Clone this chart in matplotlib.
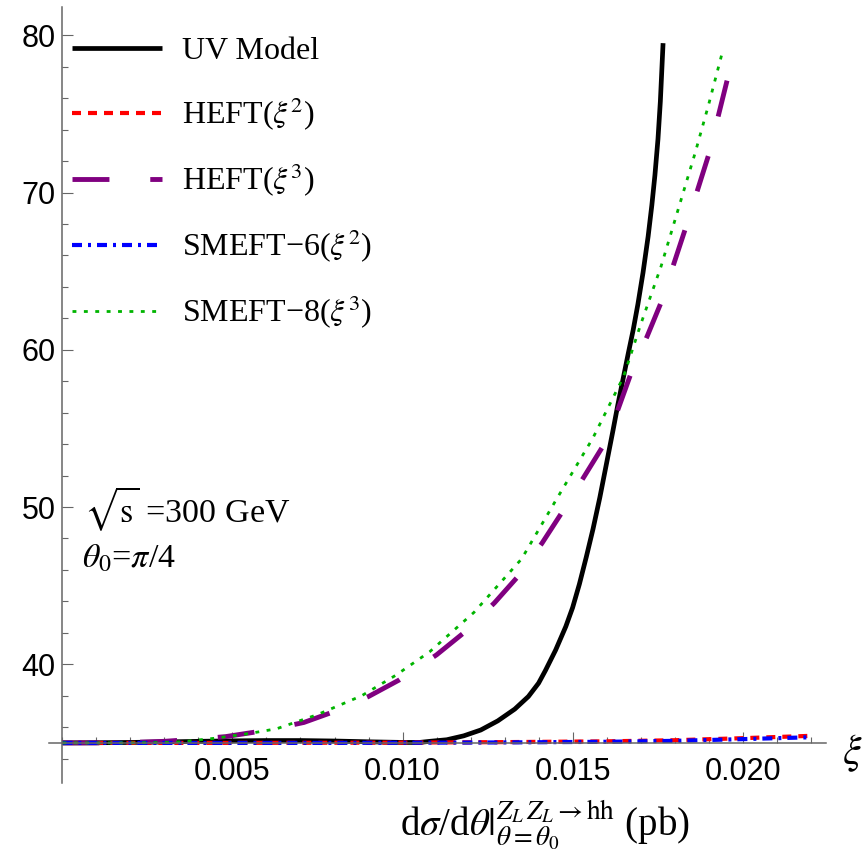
import numpy as np
import matplotlib
matplotlib.use("Agg")
import matplotlib.pyplot as plt
from matplotlib.ticker import MultipleLocator, FormatStrFormatter

plt.rcParams['mathtext.fontset'] = 'stix'
plt.rcParams['font.family'] = ['Liberation Serif', 'DejaVu Serif']

# values
uv_x = [0, 0.001, 0.002, 0.003, 0.004, 0.005, 0.006, 0.007, 0.008, 0.009, 0.010,
        0.0105, 0.0108, 0.0113, 0.0118, 0.0123, 0.0128, 0.0133, 0.0137, 0.0140,
        0.0142, 0.0145, 0.0148, 0.0150, 0.0152, 0.0154, 0.0156, 0.0158, 0.0160,
        0.01619, 0.01633, 0.01648, 0.01663, 0.01678, 0.01692, 0.01707, 0.01722,
        0.01733, 0.01742, 0.01751, 0.01758, 0.01766]
uv_y = [35.0, 35.01, 35.03, 35.06, 35.1, 35.13, 35.15, 35.15, 35.12, 35.07, 35.03,
        35.03, 35.1, 35.2, 35.45, 35.82, 36.4, 37.15, 37.95, 38.8,
        39.6, 40.9, 42.4, 43.6, 45.1, 46.8, 48.6, 50.6, 52.8,
        54.9, 56.5, 58.1, 59.7, 61.25, 62.9, 64.9, 67.2,
        69.2, 71.1, 73.4, 75.8, 79.5]

heft2_x = [0, 0.004, 0.008, 0.010, 0.013, 0.016, 0.018, 0.020, 0.022]
heft2_y = [35.0, 35.0, 35.01, 35.02, 35.05, 35.1, 35.17, 35.3, 35.45]

heft3_x = [0, 0.001, 0.002, 0.003, 0.004, 0.0048, 0.006, 0.0071, 0.008, 0.009,
           0.0099, 0.0110, 0.0118, 0.0127, 0.0134, 0.0141, 0.0147, 0.0153, 0.0159,
           0.0163, 0.0167, 0.0172, 0.0176, 0.0183, 0.0190, 0.01955]
heft3_y = [35.0, 35.0, 35.03, 35.1, 35.25, 35.4, 35.8, 36.3, 37.0, 37.95,
           39.0, 40.6, 42.0, 43.9, 45.6, 47.7, 49.7, 51.8, 53.9,
           56.0, 58.4, 60.9, 63.0, 67.6, 72.4, 77.2]

smeft6_x = [0, 0.004, 0.008, 0.010, 0.013, 0.016, 0.018, 0.020, 0.022]
smeft6_y = [35.0, 35.0, 35.0, 35.01, 35.03, 35.07, 35.13, 35.24, 35.36]

smeft8_x = [0, 0.002, 0.003, 0.0035, 0.0045, 0.0055, 0.0063, 0.0075, 0.0088, 0.0098,
            0.0108, 0.0121, 0.0135, 0.0145, 0.0156, 0.0165, 0.0170, 0.0176, 0.0181,
            0.0186, 0.0190, 0.0194]
smeft8_y = [35.0, 35.0, 35.03, 35.07, 35.3, 35.6, 35.9, 36.8, 38.0, 39.3,
            40.8, 43.3, 46.7, 50.4, 54.4, 58.3, 61.6, 65.3, 68.9,
            72.5, 75.6, 78.9]

x_major = [0.005, 0.010, 0.015, 0.020]
y_major = [40, 50, 60, 70, 80]

W, H = 867, 851
fig = plt.figure(figsize=(W / 100, H / 100), dpi=100)
x_lo, x_hi = -0.00039, 0.02245
y_lo, y_hi = 32.45, 81.8
left_px = 62.4 + x_lo * 34013
ax = fig.add_axes([left_px / W, (H - 783) / H, (826 - left_px) / W, (783 - 7) / H])

ax.plot(uv_x, uv_y, color='black', lw=3.4, label='UV Model', solid_capstyle='butt')
ax.plot(heft2_x, heft2_y, color='red', lw=3.0, dashes=(2.16, 1.68), label=r'HEFT($\xi^2$)')
ax.plot(heft3_x, heft3_y, color='purple', lw=3.5, dashes=(7.6, 8.4), label=r'HEFT($\xi^3$)')
ax.plot(smeft6_x, smeft6_y, color='blue', lw=3.0, dashes=(2.4, 1.44, 0.72, 1.44),
        label=r'SMEFT−6($\xi^2$)')
ax.plot(smeft8_x, smeft8_y, color='#00b400', lw=2.0, dashes=(1.4, 2.7),
        label=r'SMEFT−8($\xi^3$)')

ax.set_xlim(x_lo, x_hi)
ax.set_ylim(y_lo, y_hi)
ax.spines['left'].set_position(('data', 0))
ax.spines['bottom'].set_position(('data', 35))
ax.spines['top'].set_visible(False)
ax.spines['right'].set_visible(False)
for s in ['left', 'bottom']:
    ax.spines[s].set_color('#666666')
    ax.spines[s].set_linewidth(1.1)

ax.set_xticks(x_major)
ax.xaxis.set_major_formatter(FormatStrFormatter('%.3f'))
ax.xaxis.set_minor_locator(MultipleLocator(0.001))
ax.set_yticks(y_major)
ax.yaxis.set_minor_locator(MultipleLocator(2))
ax.tick_params(which='both', direction='in', color='#666666', width=0.8)
ax.tick_params(which='major', length=8)
ax.tick_params(which='minor', length=4.5)
ax.tick_params(axis='x', which='major', pad=10)
ax.tick_params(axis='y', which='major', pad=5)
for lab in ax.get_xticklabels() + ax.get_yticklabels():
    lab.set_fontfamily('Liberation Sans')
    lab.set_fontsize(22)

leg = ax.legend(loc='upper left', bbox_to_anchor=(72 / W, 1 - 37 / H),
                bbox_transform=fig.transFigure, frameon=False, fontsize=23,
                handlelength=2.82, handletextpad=0.63, labelspacing=0.91,
                borderpad=0, borderaxespad=0)

fig.text(84 / W, 1 - 522 / H, r'$\sqrt{\mathrm{s}}$ =300 GeV', fontsize=24.5, va='baseline')
fig.text(82 / W, 1 - 567 / H, r'$\theta_0$=$\pi$/4', fontsize=24.5, va='baseline')
fig.text(852 / W, 1 - 753 / H, r'$\xi$', fontsize=30, ha='center', va='center')
fig.text(545 / W, 1 - 836 / H,
         r'd$\sigma$/d$\theta|_{\theta=\theta_0}^{Z_L\,Z_L\rightarrow\mathrm{hh}}$ (pb)',
         fontsize=28, ha='center', va='baseline')

fig.savefig('out.png', dpi=100)
